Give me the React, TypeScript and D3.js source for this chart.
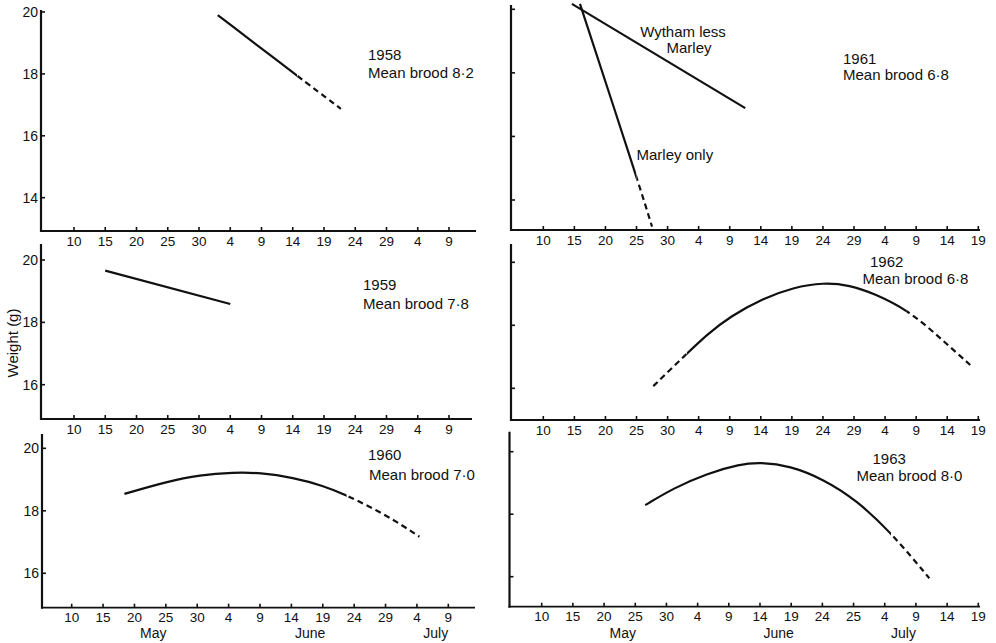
import React from "react";
import * as d3 from "d3";

// ---------- DATA ----------
// Day numbers counted from 1 May = 1 (so 4 June = 35, 4 July = 65); weights in g.
const leftTickDays = d3.range(10, 71, 5);
const rightTickDays = d3.range(10, 81, 5);
const leftTickLabels = ["10", "15", "20", "25", "30", "4", "9", "14", "19", "24", "29", "4", "9"];
const rightTickLabels = ["10", "15", "20", "25", "30", "4", "9", "14", "19", "24", "29", "4", "9", "14", "19"];
const bottomRightTickLabels = ["10", "15", "20", "25", "30", "4", "9", "14", "19", "24", "25", "4", "9", "14", "19"];
const weightTicksTop = [14, 16, 18, 20];
const weightTicks = [16, 18, 20];
const monthLabels = ["May", "June", "July"];
const monthDays = [23, 48, 68];

const w1958: [number, number][] = [[33.0, 19.9], [45.7, 17.94], [52.7, 16.87]];
const w1958DashFrom = 45.7;

const w1959: [number, number][] = [[15.0, 19.66], [35.0, 18.59]];

const w1960: [number, number][] = [
  [18.4, 18.54], [25.1, 18.93], [30.4, 19.15], [35.8, 19.23], [40.0, 19.22],
  [45.3, 19.06], [50.1, 18.8], [53.8, 18.5], [60.2, 17.86], [65.4, 17.17],
];
const w1960DashFrom = 53.8;

const w1961Wytham: [number, number][] = [[14.6, 20.17], [42.5, 16.89]];
const w1961Marley: [number, number][] = [[15.9, 20.17], [25.0, 14.74], [27.5, 13.16]];
const w1961MarleyDashFrom = 25.0;

const w1962: [number, number][] = [
  [27.7, 16.07], [33.1, 17.1], [36.3, 17.7], [40.05, 18.28], [45.4, 18.86],
  [50.2, 19.2], [55.1, 19.36], [59.35, 19.27], [63.1, 19.02], [69.0, 18.45],
  [74.4, 17.5], [78.7, 16.74],
];
const w1962DashTo = 33.1;
const w1962DashFrom = 68.5;

const w1963: [number, number][] = [
  [26.6, 18.29], [31.1, 18.83], [36.45, 19.3], [41.8, 19.6], [45.0, 19.66],
  [49.8, 19.55], [55.15, 19.12], [60.5, 18.45], [66.4, 17.33], [72.15, 15.95],
];
const w1963DashFrom = 66.0;

const notes1958 = ["1958", "Mean brood 8·2"];
const notes1959 = ["1959", "Mean brood 7·8"];
const notes1960 = ["1960", "Mean brood 7·0"];
const notes1961 = ["1961", "Mean brood 6·8"];
const notes1962 = ["1962", "Mean brood 6·8"];
const notes1963 = ["1963", "Mean brood 8·0"];
const labelsWytham = ["Wytham less", "Marley"];
const labelMarley = "Marley only";
const yTitle = "Weight (g)";

// ---------- LAYOUT ----------
type Series = { id: string; pts: [number, number][]; dashTo?: number; dashFrom?: number };
type Note = { text: string; x: number; y: number; anchor?: string };
type Panel = {
  id: string;
  axX: number; axEnd: number; ayTop: number; ayBot: number;
  xd: [number, number]; xr: [number, number];
  yd: [number, number]; yr: [number, number];
  ticksX: number[]; labelsX: string[]; ticksY: number[]; showY: boolean; months: boolean;
  series: Series[]; notes: Note[];
};

const panels: Panel[] = [
  {
    id: "p58", axX: 41, axEnd: 476, ayTop: 10, ayBot: 231, xd: [10, 70], xr: [74, 449],
    yd: [14, 20], yr: [197.7, 12], ticksX: leftTickDays, labelsX: leftTickLabels,
    ticksY: weightTicksTop, showY: true, months: false,
    series: [{ id: "s58", pts: w1958, dashFrom: w1958DashFrom }],
    notes: [{ text: notes1958[0], x: 368, y: 59.5 }, { text: notes1958[1], x: 368, y: 78 }],
  },
  {
    id: "p59", axX: 41, axEnd: 472, ayTop: 244, ayBot: 419, xd: [10, 70], xr: [74, 449],
    yd: [16, 20], yr: [384.7, 260], ticksX: leftTickDays, labelsX: leftTickLabels,
    ticksY: weightTicks, showY: true, months: false,
    series: [{ id: "s59", pts: w1959 }],
    notes: [{ text: notes1959[0], x: 363, y: 290 }, { text: notes1959[1], x: 363, y: 309 }],
  },
  {
    id: "p60", axX: 42, axEnd: 475, ayTop: 434, ayBot: 607.7, xd: [10, 70], xr: [71.7, 448.3],
    yd: [16, 20], yr: [573.3, 448.3], ticksX: leftTickDays, labelsX: leftTickLabels,
    ticksY: weightTicks, showY: true, months: true,
    series: [{ id: "s60", pts: w1960, dashFrom: w1960DashFrom }],
    notes: [{ text: notes1960[0], x: 368, y: 460 }, { text: notes1960[1], x: 369, y: 479.5 }],
  },
  {
    id: "p61", axX: 511, axEnd: 980, ayTop: 5, ayBot: 230, xd: [10, 80], xr: [543.3, 978.3],
    yd: [14, 20], yr: [200, 9.3], ticksX: rightTickDays, labelsX: rightTickLabels,
    ticksY: weightTicksTop, showY: false, months: false,
    series: [
      { id: "s61w", pts: w1961Wytham },
      { id: "s61m", pts: w1961Marley, dashFrom: w1961MarleyDashFrom },
    ],
    notes: [
      { text: labelsWytham[0], x: 683, y: 37, anchor: "middle" },
      { text: labelsWytham[1], x: 689, y: 53, anchor: "middle" },
      { text: labelMarley, x: 636.5, y: 159.5 },
      { text: notes1961[0], x: 843, y: 63.5 },
      { text: notes1961[1], x: 843, y: 80 },
    ],
  },
  {
    id: "p62", axX: 511, axEnd: 980, ayTop: 244, ayBot: 420, xd: [10, 80], xr: [543.3, 978.3],
    yd: [16, 20], yr: [388.3, 262.3], ticksX: rightTickDays, labelsX: rightTickLabels,
    ticksY: weightTicks, showY: false, months: false,
    series: [{ id: "s62", pts: w1962, dashTo: w1962DashTo, dashFrom: w1962DashFrom }],
    notes: [{ text: notes1962[0], x: 870, y: 266.5 }, { text: notes1962[1], x: 862.5, y: 283.5 }],
  },
  {
    id: "p63", axX: 509.5, axEnd: 980, ayTop: 431.7, ayBot: 606.7, xd: [10, 80], xr: [541.7, 978.3],
    yd: [16, 20], yr: [576.7, 451.7], ticksX: rightTickDays, labelsX: bottomRightTickLabels,
    ticksY: weightTicks, showY: false, months: true,
    series: [{ id: "s63", pts: w1963, dashFrom: w1963DashFrom }],
    notes: [{ text: notes1963[0], x: 872.5, y: 463.5 }, { text: notes1963[1], x: 856.5, y: 481 }],
  },
];

const INK = "#111";
const FONT = "'Liberation Sans', Arial, Helvetica, sans-serif";

function PanelView({ p }: { p: Panel }) {
  const x = d3.scaleLinear().domain(p.xd).range(p.xr);
  const y = d3.scaleLinear().domain(p.yd).range(p.yr);
  const line = d3
    .line<[number, number]>()
    .x((d) => x(d[0]))
    .y((d) => y(d[1]))
    .curve(d3.curveBasis);

  return (
    <g>
      {/* axes */}
      <line x1={p.axX} x2={p.axX} y1={p.ayTop} y2={p.ayBot + 1} stroke={INK} strokeWidth={2.2} />
      <line x1={p.axX - 1} x2={p.axEnd} y1={p.ayBot} y2={p.ayBot} stroke={INK} strokeWidth={1.8} />
      {/* x ticks */}
      {p.ticksX.map((t, i) => (
        <g key={"xt" + i}>
          <line x1={x(t)} x2={x(t)} y1={p.ayBot} y2={p.ayBot - 4} stroke={INK} strokeWidth={1.6} />
          <text
            x={x(t)}
            y={p.ayBot + 14.5}
            textAnchor="middle"
            fontSize={13.5}
            fontFamily={FONT}
            fill={INK}
          >
            {p.labelsX[i]}
          </text>
        </g>
      ))}
      {/* y ticks */}
      {p.ticksY.map((t) => (
        <g key={"yt" + t}>
          <line x1={p.axX} x2={p.axX + 4} y1={y(t)} y2={y(t)} stroke={INK} strokeWidth={1.6} />
          {p.showY && (
            <text
              x={p.axX - 3}
              y={y(t) + 5}
              textAnchor="end"
              fontSize={14}
              fontFamily={FONT}
              fill={INK}
            >
              {t}
            </text>
          )}
        </g>
      ))}
      {/* month labels */}
      {p.months &&
        monthLabels.map((m, i) => (
          <text
            key={m}
            x={x(monthDays[i])}
            y={638}
            textAnchor="middle"
            fontSize={14}
            fontFamily={FONT}
            fill={INK}
          >
            {m}
          </text>
        ))}
      {/* series */}
      {p.series.map((s) => {
        const d = line(s.pts) || "";
        const hasDash = s.dashTo !== undefined || s.dashFrom !== undefined;
        if (!hasDash) {
          return <path key={s.id} d={d} fill="none" stroke={INK} strokeWidth={2.2} />;
        }
        const sx0 = s.dashTo !== undefined ? x(s.dashTo) : 0;
        const sx1 = s.dashFrom !== undefined ? x(s.dashFrom) : 996;
        return (
          <g key={s.id}>
            <defs>
              <clipPath id={s.id + "-solid"}>
                <rect x={sx0} y={0} width={Math.max(0, sx1 - sx0)} height={643} />
              </clipPath>
              <clipPath id={s.id + "-dash"}>
                {s.dashTo !== undefined && <rect x={0} y={0} width={sx0} height={643} />}
                {s.dashFrom !== undefined && <rect x={sx1} y={0} width={996 - sx1} height={643} />}
              </clipPath>
            </defs>
            <path
              d={d}
              fill="none"
              stroke={INK}
              strokeWidth={2.2}
              clipPath={`url(#${s.id}-solid)`}
            />
            <path
              d={d}
              fill="none"
              stroke={INK}
              strokeWidth={2.2}
              strokeDasharray="6,4"
              clipPath={`url(#${s.id}-dash)`}
            />
          </g>
        );
      })}
      {/* annotations */}
      {p.notes.map((n, i) => (
        <text
          key={"n" + i}
          x={n.x}
          y={n.y}
          textAnchor={n.anchor || "start"}
          fontSize={15}
          fontFamily={FONT}
          fill={INK}
        >
          {n.text}
        </text>
      ))}
    </g>
  );
}

export default function App() {
  return (
    <svg
      width={996}
      height={643}
      viewBox="0 0 996 643"
      style={{ position: "fixed", left: 0, top: 0, background: "#fff" }}
    >
      <rect x={0} y={0} width={996} height={643} fill="#fff" />
      {panels.map((p) => (
        <PanelView key={p.id} p={p} />
      ))}
      <text
        transform="translate(18,343) rotate(-90)"
        textAnchor="middle"
        fontSize={15}
        fontFamily={FONT}
        fill={INK}
      >
        {yTitle}
      </text>
    </svg>
  );
}
